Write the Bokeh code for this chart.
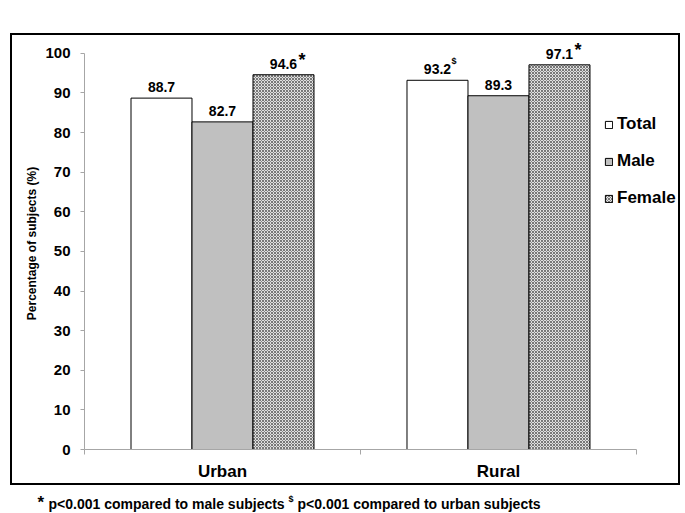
import numpy as np
from bokeh.plotting import figure
from bokeh.models import FixedTicker, Range1d, Legend, LegendItem, Spacer
from bokeh.layouts import column, row
from bokeh.core.properties import value
from bokeh.embed import file_html
from bokeh.resources import INLINE

# ---- data ----
categories = ["Urban", "Rural"]
series = ["Total", "Male", "Female"]
total = [88.7, 93.2]
male = [82.7, 89.3]
female = [94.6, 97.1]
total_marks = ["", "$"]
female_marks = ["*", "*"]
y_ticks = [0, 10, 20, 30, 40, 50, 60, 70, 80, 90, 100]
y_label = "Percentage of subjects (%)"
footnote_parts = ["*", "p<0.001 compared to male subjects", "$",
                  "p<0.001 compared to urban subjects"]

FONT = "Liberation Sans"
AXIS_GREY = "#a6a6a6"

p = figure(width=666, height=448,
           x_range=Range1d(0, 2.145), y_range=Range1d(0, 104.0),
           output_backend="svg", toolbar_location=None,
           min_border_left=72, min_border_right=2,
           min_border_top=2, min_border_bottom=33)
p.outline_line_color = None
p.grid.visible = False
p.background_fill_color = "white"
p.border_fill_color = "white"
p.styles = {"outline": "2px solid black", "outline-offset": "0px"}

idx = np.arange(len(categories))
centers = idx + 0.5
bw = 0.221

r_total = p.vbar(x=centers - bw, top=total, width=bw, bottom=0,
                 fill_color="white", line_color="black", line_width=1)
r_male = p.vbar(x=centers, top=male, width=bw, bottom=0,
                fill_color="#c0c0c0", line_color="black", line_width=1)
r_female = p.vbar(x=centers + bw, top=female, width=bw, bottom=0,
                  fill_color="#e0e0e0", hatch_pattern="x", hatch_scale=3,
                  hatch_color="#777777", hatch_weight=1,
                  line_color="black", line_width=1)

# value labels
lab_kw = dict(text_align="center", text_baseline="alphabetic", y_offset=-11,
              text_font=value(FONT), text_font_style="bold",
              text_font_size="14px", text_color="black")
p.text(x=centers - bw, y=total, text=[f"{v:.1f}" for v in total], **lab_kw)
p.text(x=centers, y=male, text=[f"{v:.1f}" for v in male], **lab_kw)
p.text(x=centers + bw, y=female, text=[f"{v:.1f}" for v in female], **lab_kw)
p.text(x=centers + bw, y=female, text=female_marks, x_offset=15, y_offset=-15,
       text_align="left", text_baseline="alphabetic", text_font=value(FONT),
       text_font_style="bold", text_font_size="18px", text_color="black")
p.text(x=centers - bw, y=total, text=total_marks, x_offset=14, y_offset=-19,
       text_align="left", text_baseline="alphabetic", text_font=value(FONT),
       text_font_style="bold", text_font_size="9px", text_color="black")

# y axis
yax = p.yaxis[0]
yax.ticker = FixedTicker(ticks=y_ticks, minor_ticks=[])
yax.bounds = (0, 100)
yax.axis_line_color = AXIS_GREY
yax.major_tick_line_color = AXIS_GREY
yax.major_tick_out = 4
yax.major_tick_in = 0
yax.minor_tick_out = 0
yax.minor_tick_in = 0
yax.major_label_standoff = 10
yax.major_label_text_font = FONT
yax.major_label_text_font_style = "bold"
yax.major_label_text_font_size = "15px"
yax.major_label_text_color = "black"
yax.axis_label = y_label
yax.axis_label_text_font = FONT
yax.axis_label_text_font_style = "bold"
yax.axis_label_text_font_size = "12px"
yax.axis_label_text_color = "black"
yax.axis_label_standoff = 3

# x axis
xax = p.xaxis[0]
xax.ticker = FixedTicker(ticks=list(centers),
                         minor_ticks=list(range(len(categories) + 1)))
xax.major_label_overrides = {float(c): name for c, name in zip(centers, categories)}
xax.bounds = (0, len(categories))
xax.axis_line_color = AXIS_GREY
xax.major_tick_line_color = None
xax.major_tick_out = 0
xax.major_tick_in = 0
xax.minor_tick_line_color = AXIS_GREY
xax.minor_tick_out = 5
xax.minor_tick_in = 0
xax.major_label_standoff = 7
xax.major_label_text_font = FONT
xax.major_label_text_font_style = "bold"
xax.major_label_text_font_size = "17px"
xax.major_label_text_color = "black"

# legend
legend = Legend(items=[LegendItem(label=s, renderers=[r])
                       for s, r in zip(series, [r_total, r_male, r_female])],
                location=(520, 241), orientation="vertical",
                glyph_width=9, glyph_height=9, label_height=20,
                label_standoff=4, spacing=17, padding=0, margin=0,
                border_line_alpha=0, background_fill_alpha=0,
                label_text_font=FONT, label_text_font_style="bold",
                label_text_font_size="17px", label_text_color="black")
p.add_layout(legend)

# footnote strip (frame covers the whole strip, 1 data unit = 1 px)
f = figure(width=685, height=28, x_range=Range1d(0, 685), y_range=Range1d(0, 28),
           output_backend="svg", toolbar_location=None,
           min_border_left=0, min_border_right=0, min_border_top=0,
           min_border_bottom=0)
f.axis.visible = False
f.grid.visible = False
f.outline_line_color = None
f.background_fill_color = "white"
f.border_fill_color = "white"
fn_x = [37, 48, 288, 297]
fn_y = [11, 10, 15, 10]
fn_size = ["17px", "14px", "9px", "14px"]
for tx, xx, yy, sz in zip(footnote_parts, fn_x, fn_y, fn_size):
    f.text(x=[xx], y=[yy], text=[tx], text_align="left", text_baseline="alphabetic",
           text_font=value(FONT), text_font_style="bold", text_font_size=sz,
           text_color="black")

layout = column(Spacer(width=685, height=35),
                row(Spacer(width=12, height=448), p),
                Spacer(width=685, height=2),
                f)

open("out.html", "w").write(file_html(layout, INLINE))
